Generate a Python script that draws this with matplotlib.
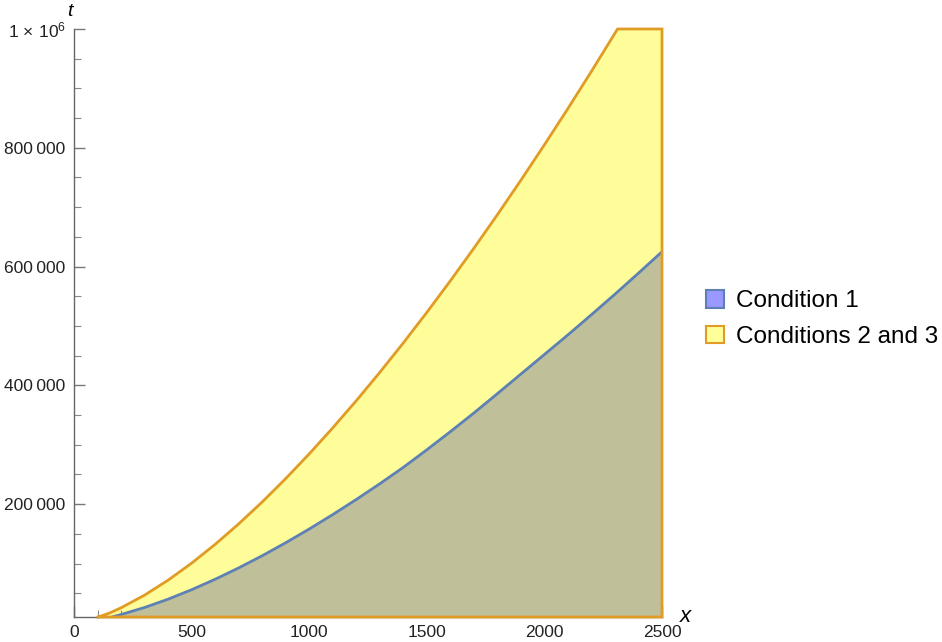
import numpy as np
import matplotlib.pyplot as plt
from matplotlib.patches import Patch

plt.rcParams['font.family'] = ['Liberation Sans', 'DejaVu Sans']
plt.rcParams['mathtext.fontset'] = 'custom'
plt.rcParams['mathtext.rm'] = 'Liberation Sans'
plt.rcParams['mathtext.it'] = 'Liberation Sans:italic'

# values
x_upper = [103, 150, 200, 300, 400, 500, 600, 700, 800, 900, 1000, 1100, 1200, 1300,
           1400, 1500, 1600, 1700, 1800, 1900, 2000, 2100, 2200, 2311, 2500]
t_upper = [10000, 16500, 25500, 46800, 72000, 100600, 132300, 166700, 203600, 243000,
           284600, 328400, 374100, 421800, 471400, 522800, 576000, 630800, 687300,
           745400, 805000, 866100, 928700, 1000000, 1000000]
x_lower = [160, 200, 300, 400, 500, 600, 700, 800, 900, 1000, 1100, 1200, 1300, 1400,
           1500, 1600, 1700, 1800, 1900, 2000, 2100, 2200, 2300, 2400, 2500]
t_lower = [10000, 14100, 26000, 40000, 55900, 73500, 92600, 113100, 135000, 158100,
           182400, 207800, 234300, 261900, 291500, 322000, 353400, 386000, 419000,
           452000, 485000, 519000, 553500, 589000, 625000]
t_min = 10000
t_max = 1000000
x_max = 2500

fig = plt.figure(figsize=(9.42, 6.42), dpi=100)
ax = fig.add_axes([74/942, 25/642, 588/942, 588/642])

orange = '#E09C24'
blue = '#5E81B5'
ax.fill_between(x_upper, t_min, t_upper, color='#FFFD99', lw=0, zorder=1)
ax.fill_between(x_lower, t_min, t_lower, color='#BFBF99', lw=0, zorder=2)
ax.plot(x_lower, t_lower, color=blue, lw=2, zorder=3, solid_capstyle='butt')
ax.plot(x_upper + [x_max, x_upper[0]], t_upper + [t_min, t_min], color=orange, lw=2,
        zorder=4, solid_joinstyle='miter', clip_on=False)

ax.set_xlim(0, x_max)
ax.set_ylim(t_min, t_max)
for s in ['top', 'right']:
    ax.spines[s].set_visible(False)
for s in ['left', 'bottom']:
    ax.spines[s].set_color('#666666')
    ax.spines[s].set_linewidth(1)

ax.set_xticks([0, 500, 1000, 1500, 2000, 2500])
ax.set_xticks(np.arange(100, 2500, 100), minor=True)
yt = [200000, 400000, 600000, 800000, 1000000]
ax.set_yticks(yt, ['200\u2009000', '400\u2009000', '600\u2009000', '800\u2009000',
                   r'$1\,\times\,10^{6}$'])
ax.set_yticks(np.arange(50000, 1000000, 50000), minor=True)
ax.tick_params(which='major', direction='in', length=8, width=1, color='#777777',
               labelsize=12.5, labelcolor='#222222', pad=6)
ax.tick_params(which='minor', direction='in', length=5, width=0.8, color='#888888')

fig.text(70/942, 1 - 12/642, 't', fontsize=14, style='italic', ha='center', va='center')
fig.text(685/942, 1 - 616/642, 'x', fontsize=16, style='italic', ha='center', va='center')

handles = [Patch(facecolor='#9999FF', edgecolor=blue, lw=1.5, label='Condition 1'),
           Patch(facecolor='#FFFF99', edgecolor=orange, lw=1.5, label='Conditions 2 and 3')]
fig.legend(handles=handles, loc='center left', bbox_to_anchor=(706/942, 1 - 319/642),
           frameon=False, fontsize=17.5, handlelength=0.75, handleheight=0.75,
           handletextpad=0.5, labelspacing=0.55, borderpad=0, borderaxespad=0)

fig.savefig('out.png', dpi=100)
